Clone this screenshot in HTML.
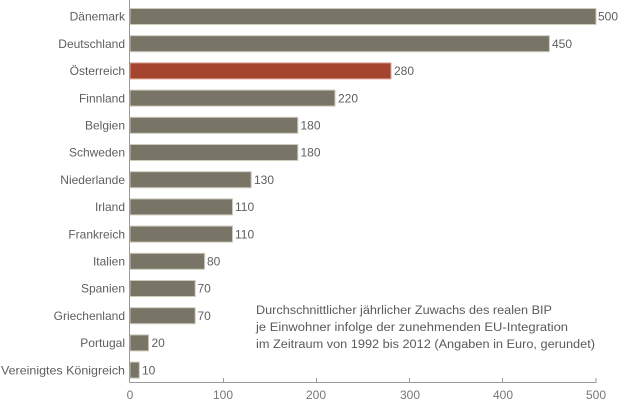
<!DOCTYPE html>
<html><head><meta charset="utf-8"><style>
html,body{margin:0;padding:0;background:#fff;width:620px;height:402px;overflow:hidden}
svg{display:block}
text{font-family:"Liberation Sans","DejaVu Sans",sans-serif}
</style></head><body>
<svg width="620" height="402" viewBox="0 0 620 402" xmlns="http://www.w3.org/2000/svg">
<g fill="#5e5e5e" font-size="12" text-anchor="end">
<text x="125" y="20.7">Dänemark</text>
<text x="125" y="47.9">Deutschland</text>
<text x="125" y="75.1">Österreich</text>
<text x="125" y="102.3">Finnland</text>
<text x="125" y="129.5">Belgien</text>
<text x="125" y="156.7">Schweden</text>
<text x="125" y="183.9">Niederlande</text>
<text x="125" y="211.1">Irland</text>
<text x="125" y="238.3">Frankreich</text>
<text x="125" y="265.5">Italien</text>
<text x="125" y="292.7">Spanien</text>
<text x="125" y="319.9">Griechenland</text>
<text x="125" y="347.1">Portugal</text>
<text x="125" y="374.3" textLength="124" lengthAdjust="spacingAndGlyphs">Vereinigtes Königreich</text>
</g>
<g stroke="#cdc9bb" stroke-width="1" fill="#787566">
<rect x="130" y="8.5" width="466" height="16"/>
<rect x="130" y="35.7" width="419.4" height="16"/>
<rect x="130" y="62.9" width="261" height="16" fill="#a6452f" stroke="#dca193"/>
<rect x="130" y="90.1" width="205" height="16"/>
<rect x="130" y="117.3" width="167.8" height="16"/>
<rect x="130" y="144.5" width="167.8" height="16"/>
<rect x="130" y="171.7" width="121.2" height="16"/>
<rect x="130" y="198.9" width="102.5" height="16"/>
<rect x="130" y="226.1" width="102.5" height="16"/>
<rect x="130" y="253.3" width="74.6" height="16"/>
<rect x="130" y="280.5" width="65.2" height="16"/>
<rect x="130" y="307.7" width="65.2" height="16"/>
<rect x="130" y="334.9" width="18.6" height="16"/>
<rect x="130" y="362.1" width="9.3" height="16"/>
</g>
<g fill="#5e5e5e" font-size="12">
<text x="598" y="20.7">500</text>
<text x="552" y="47.9">450</text>
<text x="394" y="75.1">280</text>
<text x="338" y="102.3">220</text>
<text x="300.5" y="129.5">180</text>
<text x="300.5" y="156.7">180</text>
<text x="254" y="183.9">130</text>
<text x="235" y="211.1">110</text>
<text x="235" y="238.3">110</text>
<text x="207" y="265.5">80</text>
<text x="197.5" y="292.7">70</text>
<text x="197.5" y="319.9">70</text>
<text x="151.5" y="347.1">20</text>
<text x="142" y="374.3">10</text>
</g>
<g stroke="#9a9a9a" stroke-width="1">
<line x1="129.5" y1="0" x2="129.5" y2="382.5"/>
<line x1="129.5" y1="382.5" x2="596.5" y2="382.5"/>
<line x1="223.5" y1="378" x2="223.5" y2="382.5"/>
<line x1="316.5" y1="378" x2="316.5" y2="382.5"/>
<line x1="409.5" y1="378" x2="409.5" y2="382.5"/>
<line x1="502.5" y1="378" x2="502.5" y2="382.5"/>
<line x1="596" y1="378" x2="596" y2="382.5"/>
</g>
<g fill="#777" font-size="12" text-anchor="middle">
<text x="130" y="399">0</text>
<text x="223" y="399">100</text>
<text x="316" y="399">200</text>
<text x="410" y="399">300</text>
<text x="503" y="399">400</text>
<text x="596" y="399">500</text>
</g>
<g fill="#5a5a5a" font-size="11.5">
<text x="256" y="314" textLength="296" lengthAdjust="spacingAndGlyphs">Durchschnittlicher jährlicher Zuwachs des realen BIP</text>
<text x="256" y="331" textLength="312" lengthAdjust="spacingAndGlyphs">je Einwohner infolge der zunehmenden EU-Integration</text>
<text x="256" y="348" textLength="339" lengthAdjust="spacingAndGlyphs">im Zeitraum von 1992 bis 2012 (Angaben in Euro, gerundet)</text>
</g>
</svg>
</body></html>
